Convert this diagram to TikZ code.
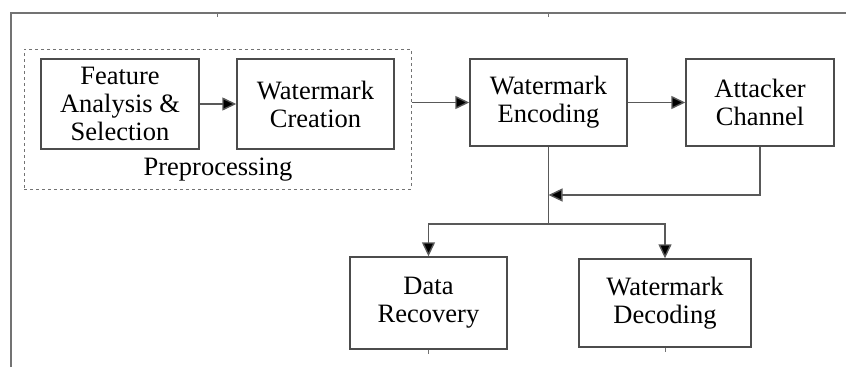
\documentclass[tikz,border=0pt]{standalone}
\usepackage{fontspec}
\setmainfont{Liberation Serif}
\usetikzlibrary{arrows.meta}
\begin{document}
\begin{tikzpicture}[x=1pt,y=-1pt,
  blk/.style={draw=black!70, line width=1.4pt, align=center, inner sep=0pt,
    font=\fontsize{26.5}{28}\selectfont, text=black},
  arr/.style={draw=black!65, line width=1.4pt, -{Triangle[length=14pt,width=13pt,fill=black]}},
  ln/.style={draw=black!65, line width=1.4pt},
  frame/.style={draw=black!55, line width=1.2pt}]
\useasboundingbox (0,0) rectangle (846,367);
% outer frame fragments
\draw[frame] (11,367) -- (11,13) -- (846,13);
\draw[frame, line width=0.8pt] (217,13) -- (217,17);
\draw[frame, line width=0.8pt] (548,13) -- (548,17);
% preprocessing group
\node[draw=black!55, dashed, line width=1pt, minimum width=387pt, minimum height=140pt, inner sep=0pt] (prep) at (217.5,119) {};
\node[blk, draw=none] (preplbl) at (218,170) {Preprocessing};
% blocks
\node[blk, minimum width=158pt, minimum height=90pt] (feat) at (120,104) {Feature\\Analysis \&\\Selection};
\node[blk, minimum width=157pt, minimum height=90pt] (crea) at (315.5,104) {Watermark\\Creation};
\node[blk, minimum width=157pt, minimum height=87pt] (enc) at (548.5,102.5) {Watermark\\Encoding};
\node[blk, minimum width=148pt, minimum height=87pt] (att) at (760,102.5) {Attacker\\Channel};
\node[blk, minimum width=157pt, minimum height=92pt] (rec) at (428.5,303) {Data\\Recovery};
\node[blk, minimum width=172pt, minimum height=88pt] (dec) at (665,303) {Watermark\\Decoding};
\draw[frame, line width=0.8pt] (rec.south) -- ++(0,4);
\draw[frame, line width=0.8pt] (dec.south) -- ++(0,4);
% connectors
\draw[arr] (feat.east) -- (crea.west |- feat.east);
\draw[arr] (prep.east |- enc.west) -- (enc.west);
\draw[arr] (enc.east) -- (att.west);
\coordinate (j) at (548.5,224);
\coordinate (m) at (548.5,195);
\draw[ln] (enc.south) -- (j);
\draw[arr] (att.south) |- (m);
\draw[arr] (j) -| (rec.north);
\draw[arr] (j) -| (dec.north);
\end{tikzpicture}
\end{document}
